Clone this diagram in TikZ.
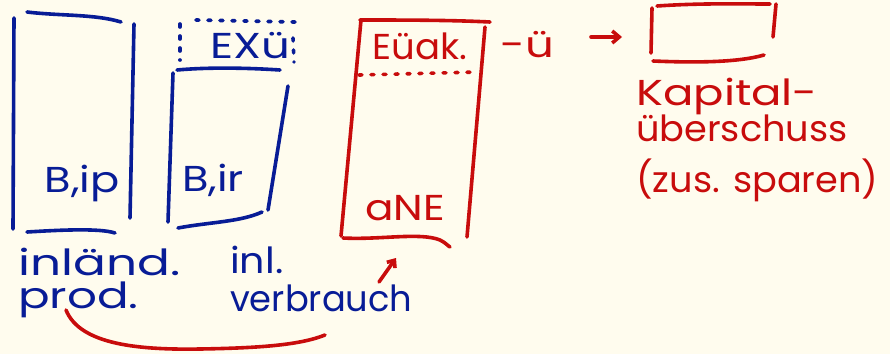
\documentclass[tikz,border=0pt]{standalone}
\usepackage{fontspec}
\setmainfont{Poppins}
\usetikzlibrary{arrows.meta}
\definecolor{paper}{RGB}{255,252,238}
\definecolor{inkblue}{RGB}{8,28,150}
\definecolor{inkred}{RGB}{200,12,12}
% horizontally stretched handwriting-like word
\newcommand{\hw}[2]{\scalebox{#1}[1]{#2}}
\tikzset{
  pen/.style={line width=3.6pt, line cap=round, line join=round},
  bluepen/.style={pen, draw=inkblue},
  redpen/.style={pen, draw=inkred},
  dotpen/.style={pen, dash pattern=on 3pt off 9pt},
  btext/.style={text=inkblue, inner sep=0pt, font=\fontsize{36}{38}\selectfont},
  rtext/.style={text=inkred, inner sep=0pt, font=\fontsize{36}{38}\selectfont},
}
\begin{document}
\begin{tikzpicture}[x=1pt,y=-1pt]
  \fill[paper] (0,0) rectangle (890,354);
  \useasboundingbox (0,0) rectangle (890,354);

  % first column: domestic production
  \draw[bluepen] (14,18) -- (13,229);
  \draw[bluepen] (27,12) .. controls (60,16) and (95,14) .. (121,22);
  \draw[bluepen] (134,24) -- (130,218);
  \draw[bluepen] (27,232) .. controls (60,230) and (100,228) .. (115,233);
  \node[btext] (bip1) at (82,183) {\hw{1.2}{B,ip}};

  % second column: domestic use plus export surplus on top
  \draw[bluepen, dotpen] (180,24) -- (180,60);
  \draw[bluepen, dotpen] (196,20) -- (295,22);
  \draw[bluepen, dotpen] (293,38) -- (294,62);
  \node[btext] (exu) at (250,46) {\hw{1.25}{EXü}};
  \draw[bluepen] (177,70) .. controls (210,67) and (250,68) .. (280,70);
  \draw[bluepen] (173,73) -- (168,222);
  \draw[bluepen] (288,86) -- (268,210);
  \draw[bluepen] (178,228) .. controls (210,222) and (240,222) .. (262,212);
  \node[btext] (bip2) at (213,180) {\hw{1.2}{B,ir}};

  % third column
  \draw[redpen] (360,20) .. controls (400,20) and (450,20) .. (490,22);
  \draw[redpen] (361,20) -- (341,236);
  \draw[redpen] (485,27) -- (467,237);
  \draw[redpen, dotpen] (359,75) -- (478,72);
  \node[rtext] (top3) at (420,46) {\hw{1.03}{Eüak.}};
  \node[rtext] (ane) at (405,208) {\hw{1.17}{aNE}};
  \draw[redpen] (343,238) .. controls (380,240) and (420,232) .. (440,240) .. controls (446,243) and (448,246) .. (450,247);

  % surplus towards capital
  \node[rtext] (minus) at (527,45) {\hw{1.25}{-ü}};
  \draw[redpen, -{Straight Barb[length=7pt,width=12pt]}] (591,37) -- (622,37);
  \draw[redpen] (652,8) -- (651,53);
  \draw[redpen] (657,6) .. controls (700,3) and (740,4) .. (770,4);
  \draw[redpen] (776,4) -- (773,37);
  \draw[redpen] (653,61) .. controls (700,63) and (740,62) .. (764,55);
  \node[rtext, anchor=west] (kap) at (636,96) {\hw{1.25}{Kapital-}};
  \node[rtext, anchor=west] (ueb) at (636,128) {\hw{1.02}{überschuss}};
  \node[rtext, anchor=west] (spar) at (636,180) {\hw{1.02}{(zus. sparen)}};

  % captions below the columns
  \node[btext, anchor=west] (inl1) at (18,262) {\hw{1.35}{inländ.}};
  \node[btext, anchor=west] (prod) at (18,300) {\hw{1.3}{prod.}};
  \node[btext, anchor=west] (inl2) at (230,260) {\hw{1.1}{inl.}};
  \node[btext, anchor=west] (verb) at (230,298) {\hw{0.98}{verbrauch}};
  \draw[redpen, -{Straight Barb[length=6pt,width=10pt]}] (379,282) -- (396,258);
  \draw[redpen] (66,310) .. controls (80,345) and (140,350) .. (200,349) .. controls (260,348) and (300,345) .. (325,335);
\end{tikzpicture}
\end{document}
